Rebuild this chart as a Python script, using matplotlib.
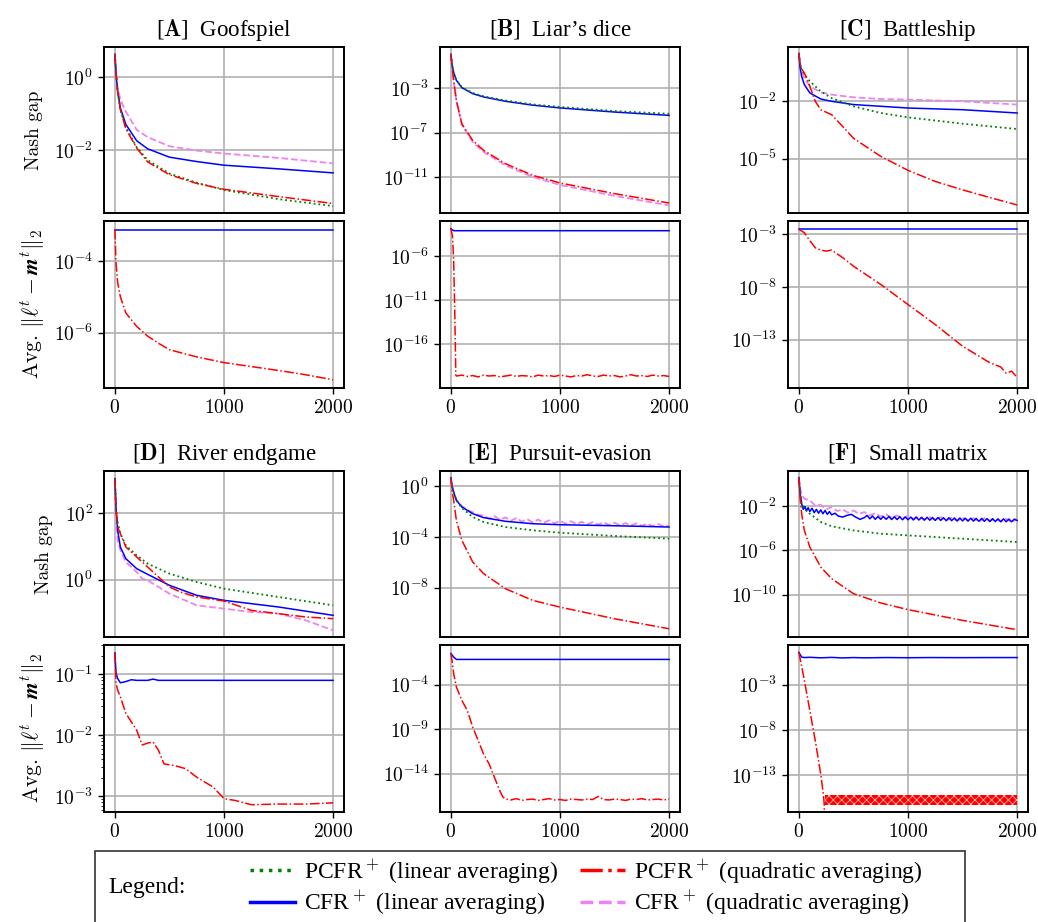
import numpy as np
import matplotlib
matplotlib.use('Agg')
import matplotlib.pyplot as plt
from matplotlib.lines import Line2D
from matplotlib.patches import Rectangle
from matplotlib.ticker import FixedLocator, NullLocator, NullFormatter, LogLocator

plt.rcParams['font.family'] = 'cmr10'
plt.rcParams['mathtext.fontset'] = 'cm'
plt.rcParams['axes.formatter.use_mathtext'] = True
plt.rcParams['font.size'] = 13.5
plt.rcParams['hatch.linewidth'] = 0.6

# ---- data (values are log10 of the plotted quantity) ----
T = [0, 10, 25, 50, 100, 200, 300, 500, 750, 1000, 1500, 2000]

# [A] Goofspiel
a_cfr_lin = [0.62, 0.1, -0.4, -0.85, -1.3, -1.75, -1.97, -2.2, -2.32, -2.42, -2.52, -2.63]
a_cfr_quad = [0.62, 0.15, -0.3, -0.62, -0.95, -1.45, -1.65, -1.9, -2.02, -2.1, -2.22, -2.37]
a_pcfr_lin = [0.62, 0.1, -0.4, -0.9, -1.38, -1.93, -2.28, -2.65, -2.9, -3.1, -3.35, -3.54]
a_pcfr_quad = [0.62, 0.1, -0.4, -0.9, -1.42, -1.95, -2.33, -2.68, -2.92, -3.08, -3.28, -3.47]
a_diff_cfr_t = [0, 2000]
a_diff_cfr = [-3.12, -3.12]
a_diff_pcfr_t = [0, 10, 25, 50, 100, 200, 300, 400, 500, 750, 1000, 1250, 1500, 1750, 2000]
a_diff_pcfr = [-3.12, -4.05, -4.6, -5.0, -5.45, -5.83, -6.1, -6.3, -6.48, -6.68, -6.84, -6.95, -7.06, -7.18, -7.32]

# [B] Liar's dice
b_cfr_lin = [0.07, -0.8, -1.55, -2.28, -2.94, -3.48, -3.78, -4.17, -4.52, -4.77, -5.14, -5.44]
b_pcfr_lin = [0.07, -0.8, -1.55, -2.25, -2.9, -3.42, -3.72, -4.1, -4.45, -4.68, -5.05, -5.3]
b_pcfr_quad = [0.07, -1.0, -2.3, -4.1, -6.2, -7.7, -8.6, -9.8, -10.85, -11.54, -12.5, -13.35]
b_cfr_quad = [0.07, -1.0, -2.3, -4.1, -6.3, -7.85, -8.75, -9.95, -11.0, -11.72, -12.7, -13.56]
b_diff_cfr_t = [0, 25, 2000]
b_diff_cfr = [-2.9, -3.12, -3.12]
b_diff_pcfr_t = [0, 15, 25, 35, 45] + list(range(50, 2001, 50))
b_diff_pcfr = [-2.9, -3.8, -6.5, -12.0, -19.5,
               -19.6, -19.5, -19.65, -19.55, -19.7, -19.5, -19.6, -19.55, -19.7, -19.6,
               -19.5, -19.65, -19.55, -19.6, -19.7, -19.5, -19.6, -19.55, -19.65, -19.5,
               -19.6, -19.7, -19.55, -19.6, -19.45, -19.6, -19.65, -19.5, -19.6, -19.55,
               -19.7, -19.6, -19.45, -19.6, -19.55, -19.65, -19.5, -19.6, -19.55, -19.65]

# [C] Battleship
c_cfr_lin = [0.5, -0.2, -0.69, -1.13, -1.56, -1.88, -2.0, -2.17, -2.26, -2.35, -2.44, -2.61]
c_cfr_quad = [0.5, 0.0, -0.43, -0.8, -1.21, -1.53, -1.65, -1.79, -1.88, -1.91, -2.0, -2.17]
c_pcfr_lin = [0.5, 0.0, -0.34, -0.6, -0.95, -1.48, -1.83, -2.26, -2.61, -2.84, -3.17, -3.45]
c_pcfr_quad_t = [0, 10, 25, 50, 100, 150, 200, 300, 400, 500, 750, 1000, 1250, 1500, 1750, 2000]
c_pcfr_quad = [0.5, 0.0, -0.3, -0.52, -1.21, -2.0, -2.44, -2.7, -3.31, -3.93, -4.88, -5.61, -6.19, -6.63, -7.03, -7.42]
c_diff_cfr_t = [0, 2000]
c_diff_cfr = [-2.46, -2.46]
c_diff_pcfr_t = [0, 50, 100, 150, 200, 250, 300, 400, 500, 750, 1000, 1250, 1500, 1750, 1850, 1900, 1950, 2000]
c_diff_pcfr = [-2.52, -2.84, -3.6, -4.27, -4.49, -4.59, -4.49, -5.2, -6.02, -7.76, -9.67, -11.57, -13.63, -15.2, -15.6, -16.2, -16.0, -16.6]

# [D] River endgame
d_cfr_lin = [3.03, 2.18, 1.48, 0.98, 0.63, 0.33, 0.16, -0.17, -0.47, -0.62, -0.82, -1.07]
d_cfr_quad_t = [0, 10, 25, 50, 100, 200, 250, 300, 350, 500, 750, 1000, 1250, 1500, 1750, 2000]
d_cfr_quad = [3.03, 2.0, 1.18, 0.88, 0.53, 0.23, 0.03, -0.02, -0.12, -0.42, -0.77, -0.87, -0.97, -1.02, -1.22, -1.52]
d_pcfr_lin = [3.03, 2.1, 1.73, 1.38, 1.03, 0.73, 0.48, 0.18, -0.07, -0.27, -0.52, -0.77]
d_pcfr_quad_t = [0, 10, 25, 50, 100, 200, 300, 400, 500, 600, 750, 1000, 1250, 1500, 1750, 2000]
d_pcfr_quad = [3.03, 2.1, 1.58, 1.38, 0.98, 0.68, 0.38, 0.08, -0.22, -0.37, -0.52, -0.64, -0.92, -1.02, -1.12, -1.17]
d_diff_cfr_t = [0, 10, 25, 50, 100, 150, 200, 300, 350, 400, 2000]
d_diff_cfr = [-0.65, -0.98, -1.07, -1.14, -1.12, -1.09, -1.1, -1.1, -1.08, -1.1, -1.1]
d_diff_pcfr_t = [0, 10, 25, 50, 100, 150, 200, 250, 300, 350, 400, 450, 550, 650, 750, 900, 1000, 1100, 1250, 1500, 1750, 2000]
d_diff_pcfr = [-0.65, -1.15, -1.26, -1.37, -1.64, -1.78, -1.92, -2.16, -2.13, -2.11, -2.25, -2.47, -2.5, -2.55, -2.69, -2.85, -3.04, -3.07, -3.14, -3.13, -3.13, -3.11]

# [E] Pursuit-evasion
e_cfr_lin = [0.68, 0.0, -0.45, -1.1, -1.63, -2.16, -2.47, -2.76, -2.95, -3.03, -3.11, -3.21]
e_pcfr_lin = [0.68, 0.0, -0.45, -1.1, -1.71, -2.42, -2.82, -3.21, -3.47, -3.66, -3.92, -4.13]
e_pcfr_quad = [0.68, -0.3, -1.1, -2.68, -4.26, -5.97, -6.89, -8.08, -9.0, -9.53, -10.45, -11.24]
e_cfr_quad_t = [0, 10, 25, 50, 100, 150, 200, 250] + list(range(300, 2001, 50))
e_cfr_quad = [0.68, 0.0, -0.45, -1.05, -1.55, -1.85, -2.05, -2.25,
              -2.3, -2.55, -2.35, -2.65, -2.45, -2.72, -2.5, -2.78, -2.6, -2.85,
              -2.62, -2.88, -2.68, -2.92, -2.72, -2.95, -2.75, -2.97, -2.8, -3.0,
              -2.82, -3.02, -2.85, -3.05, -2.88, -3.07, -2.9, -3.1, -2.92, -3.12,
              -2.95, -3.14, -2.98, -3.16, -3.1]
e_diff_cfr_t = [0, 25, 50, 2000]
e_diff_cfr = [-0.5, -0.9, -1.17, -1.17]
e_diff_pcfr_t = [0, 10, 25, 50, 100, 150, 200, 250, 300, 350, 400, 450, 475] + list(range(500, 2001, 50))
e_diff_pcfr = [-0.5, -1.26, -2.75, -4.26, -5.77, -6.89, -8.77, -10.28, -11.81, -12.9, -14.45, -15.96, -16.6,
               -16.85, -16.95, -16.8, -17.0, -16.9, -16.85, -17.0, -16.9, -16.8, -16.95,
               -16.9, -17.0, -16.85, -16.9, -16.95, -16.85, -16.9, -16.55, -16.9, -16.95,
               -16.85, -16.9, -17.0, -16.85, -16.9, -16.8, -16.95, -16.9, -16.85, -16.95, -16.85]

# [F] Small matrix
f_pcfr_lin = [0.56, -0.74, -1.79, -2.24, -2.69, -3.44, -3.83, -4.2, -4.5, -4.65, -4.95, -5.25]
f_pcfr_quad = [0.56, -1.19, -2.69, -4.2, -5.7, -7.5, -8.56, -9.91, -10.75, -11.35, -12.32, -13.16]
f_cfr_lin_t = [0, 10, 25, 40, 55, 70, 85, 100, 120, 140, 160, 180, 200, 220, 240, 260, 280, 300,
               330, 360, 400, 440, 480, 520, 560, 600, 625, 650, 675, 700] + list(range(725, 2001, 25))
f_cfr_lin = [0.56, -0.74, -1.8, -2.3, -2.05, -2.45, -2.15, -2.5, -2.2, -2.6, -2.3, -2.65, -2.35, -2.7, -2.4, -2.75, -2.5, -2.8,
             -2.65, -2.9, -3.0, -2.85, -2.75, -3.0, -3.2, -3.05, -2.85, -3.15, -2.9, -3.2,
             -2.95, -3.2, -2.95, -3.2, -2.95, -3.22, -2.97, -3.22, -2.97, -3.24, -2.99, -3.24, -3.0,
             -3.26, -3.0, -3.26, -3.02, -3.28, -3.02, -3.28, -3.04, -3.3, -3.04, -3.3, -3.06,
             -3.32, -3.06, -3.32, -3.08, -3.34, -3.08, -3.34, -3.1, -3.36, -3.1, -3.36, -3.12,
             -3.38, -3.12, -3.38, -3.14, -3.4, -3.14, -3.4, -3.16, -3.42, -3.16, -3.42, -3.18, -3.42, -3.18, -3.3]
f_cfr_quad_t = [0, 10, 25, 50] + list(range(100, 2001, 50))
f_cfr_quad = [0.56, -0.29, -1.04, -1.34,
              -1.5, -1.95, -1.9, -2.3, -2.1, -2.45, -2.3, -2.6, -2.4, -2.7, -2.55, -2.85, -2.65, -2.95,
              -2.75, -3.05, -2.85, -3.1, -2.9, -3.15, -2.95, -3.2, -3.0, -3.25, -3.0, -3.3, -3.05,
              -3.35, -3.05, -3.3, -3.1, -3.4, -3.1, -3.35, -3.15, -3.4, -3.15, -3.45, -3.2]
f_diff_cfr_t = [0, 25, 50, 100, 200, 300, 400, 500, 600, 800, 1000, 1200, 1500, 1750, 2000]
f_diff_cfr = [0.57, 0.05, 0.0, 0.03, -0.03, 0.02, -0.04, 0.0, -0.03, 0.0, -0.02, 0.0, -0.01, 0.0, 0.0]
f_diff_pcfr_t = [0, 50, 100, 150, 200, 225, 232, 236]
f_diff_pcfr = [0.57, -2.52, -5.86, -9.2, -12.9, -15.2, -16.2, -25.0]
f_band_t = [240, 2000]
f_band_lo = [-16.3, -16.3]
f_band_hi = [-15.2, -15.2]

titles = ['A', 'B', 'C', 'D', 'E', 'F']
names = ['Goofspiel', 'Liar\u2019s dice', 'Battleship', 'River endgame', 'Pursuit-evasion', 'Small matrix']

# y ticks (exponents) and y ranges (exponents) per panel
top_ticks = [[0, -2], [-3, -7, -11], [-2, -5], [2, 0], [0, -4, -8], [-2, -6, -10]]
bot_ticks = [[-4, -6], [-6, -11, -16], [-3, -8, -13], [-1, -2, -3], [-4, -9, -14], [-3, -8, -13]]
top_lims = [(-3.73, 0.82), (-14.25, 0.73), (-7.84, 0.84), (-1.72, 3.26), (-11.89, 1.21), (-13.82, 1.16)]
bot_lims = [(-7.55, -2.88), (-20.96, -2.02), (-17.6, -1.73), (-3.26, -0.52), (-18.3, 0.45), (-17.09, 1.39)]

PL = dict(color='green', ls=':', lw=1.3)
CL = dict(color='blue', ls='-', lw=1.1)
PQ = dict(color='red', ls='-.', lw=1.1)
CQ = dict(color='violet', ls='--', lw=1.3)

top_curves = [
    [(T, a_cfr_quad, CQ), (T, a_cfr_lin, CL), (T, a_pcfr_lin, PL), (T, a_pcfr_quad, PQ)],
    [(T, b_cfr_quad, CQ), (T, b_cfr_lin, CL), (T, b_pcfr_lin, PL), (T, b_pcfr_quad, PQ)],
    [(T, c_cfr_quad, CQ), (T, c_cfr_lin, CL), (T, c_pcfr_lin, PL), (c_pcfr_quad_t, c_pcfr_quad, PQ)],
    [(d_cfr_quad_t, d_cfr_quad, CQ), (T, d_cfr_lin, CL), (T, d_pcfr_lin, PL), (d_pcfr_quad_t, d_pcfr_quad, PQ)],
    [(e_cfr_quad_t, e_cfr_quad, CQ), (T, e_cfr_lin, CL), (T, e_pcfr_lin, PL), (T, e_pcfr_quad, PQ)],
    [(f_cfr_quad_t, f_cfr_quad, CQ), (f_cfr_lin_t, f_cfr_lin, CL), (T, f_pcfr_lin, PL), (T, f_pcfr_quad, PQ)],
]
bot_curves = [
    [(a_diff_cfr_t, a_diff_cfr, CL), (a_diff_pcfr_t, a_diff_pcfr, PQ)],
    [(b_diff_cfr_t, b_diff_cfr, CL), (b_diff_pcfr_t, b_diff_pcfr, PQ)],
    [(c_diff_cfr_t, c_diff_cfr, CL), (c_diff_pcfr_t, c_diff_pcfr, PQ)],
    [(d_diff_cfr_t, d_diff_cfr, CL), (d_diff_pcfr_t, d_diff_pcfr, PQ)],
    [(e_diff_cfr_t, e_diff_cfr, CL), (e_diff_pcfr_t, e_diff_pcfr, PQ)],
    [(f_diff_cfr_t, f_diff_cfr, CL), (f_diff_pcfr_t, f_diff_pcfr, PQ)],
]

W, H = 1038, 922
fig = plt.figure(figsize=(W / 100, H / 100), dpi=100)


def box(l, t, r, b):
    return [l / W, 1 - b / H, (r - l) / W, (b - t) / H]


def style(ax, ticks, lims, minor=False):
    ax.set_yscale('log')
    ax.set_ylim(10.0 ** lims[0], 10.0 ** lims[1])
    ax.yaxis.set_major_locator(FixedLocator([10.0 ** k for k in ticks]))
    if minor:
        ax.yaxis.set_minor_locator(LogLocator(base=10, subs=np.arange(2, 10)))
        ax.yaxis.set_minor_formatter(NullFormatter())
    else:
        ax.yaxis.set_minor_locator(NullLocator())
    ax.set_xlim(-100, 2100)
    ax.set_xticks([0, 1000, 2000])
    ax.grid(True, color='#b0b0b0', lw=1.2)
    ax.set_axisbelow(True)
    for s in ax.spines.values():
        s.set_linewidth(1.4)
    ax.tick_params(labelsize=14, length=4.5, width=1.0)


cols_x = [(104, 344), (440, 680), (788, 1028)]
rows_y = [((47, 213), (221, 388)), ((471, 637), (645, 812))]

for i in range(6):
    r, c = divmod(i, 3)
    l, rr = cols_x[c]
    (tt, tb), (bt, bb) = rows_y[r]
    ax1 = fig.add_axes(box(l, tt, rr, tb))
    ax2 = fig.add_axes(box(l, bt, rr, bb))
    for t, v, st in top_curves[i]:
        ax1.plot(t, 10.0 ** np.array(v), **st)
    for t, v, st in bot_curves[i]:
        ax2.plot(t, 10.0 ** np.array(v), **st)
    if i == 5:
        # rapid oscillation of PCFR+ at machine precision, drawn as a band
        ax2.fill_between(f_band_t, 10.0 ** np.array(f_band_lo), 10.0 ** np.array(f_band_hi),
                         facecolor='red', edgecolor='#ffb0b0', hatch='xxxx', lw=0)
    style(ax1, top_ticks[i], top_lims[i])
    style(ax2, bot_ticks[i], bot_lims[i], minor=(i == 3))
    ax1.tick_params(axis='x', bottom=False, labelbottom=False)
    ax1.set_title(r'[$\mathbf{%s}$]  %s' % (titles[i], names[i]),
                  family='Liberation Serif', fontsize=16.5, pad=8)
    if c == 0:
        ax1.set_ylabel('Nash gap', fontsize=14, labelpad=8)
        ax2.set_ylabel(r'Avg. $\|\boldsymbol{\ell}^t - \boldsymbol{m}^t\|_2$', fontsize=15.5, labelpad=5)

# legend
fig.patches.append(Rectangle((95 / W, -0.05), 870 / W, (922 - 851) / H + 0.05,
                             transform=fig.transFigure, fill=False, edgecolor='#333333', lw=1.2))
fig.text(108 / W, 1 - 887 / H, 'Legend:', family='Liberation Serif', fontsize=17, va='center')
handles = [Line2D([], [], color='green', ls=':', lw=2.5),
           Line2D([], [], color='blue', ls='-', lw=2.5),
           Line2D([], [], color='red', ls='-.', lw=2.5),
           Line2D([], [], color='violet', ls='--', lw=2.5)]
labels = [r'PCFR$^+$ (linear averaging)', r'CFR$^+$ (linear averaging)',
          r'PCFR$^+$ (quadratic averaging)', r'CFR$^+$ (quadratic averaging)']
fig.legend(handles, labels, loc='center left', bbox_to_anchor=(250 / W, 1 - 887 / H), ncol=2,
           frameon=False, prop={'family': 'Liberation Serif', 'size': 17}, handlelength=1.9,
           handletextpad=0.4, columnspacing=0.9, labelspacing=0.1, borderpad=0, borderaxespad=0)

fig.savefig('out.png', dpi=100)
